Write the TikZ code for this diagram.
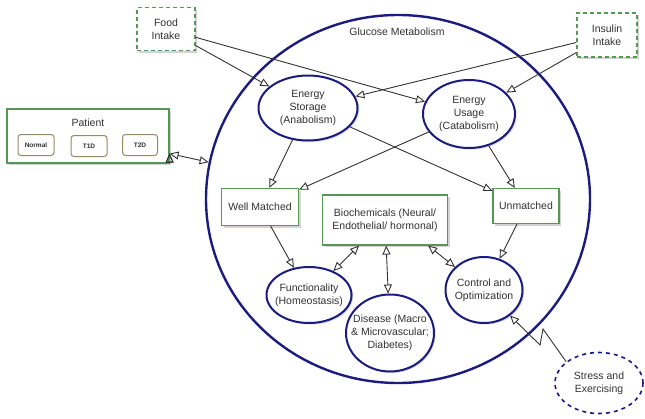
\documentclass[tikz,border=0pt]{standalone}
\usepackage{fontspec}
\setmainfont{Liberation Sans}
\usetikzlibrary{arrows.meta,shapes.geometric,shadows}

\definecolor{navyline}{RGB}{28,28,128}
\definecolor{boxgreen}{RGB}{86,150,86}
\definecolor{tanline}{RGB}{150,138,100}
\definecolor{inkgray}{RGB}{50,50,50}

\tikzset{
  blob/.style={ellipse, draw=navyline, line width=2pt, fill=white, inner sep=-10pt, align=center,
    drop shadow={shadow xshift=1.5pt, shadow yshift=-1.5pt, opacity=.2, fill=navyline}},
  gbox/.style={rectangle, draw=boxgreen, line width=1.2pt, fill=white, align=center,
    drop shadow={shadow xshift=2pt, shadow yshift=-2pt, opacity=.35, fill=gray}},
  intake/.style={gbox, dash pattern=on 4pt off 3pt, minimum width=58pt, minimum height=43pt},
  tag/.style={rectangle, rounded corners=3pt, draw=tanline, line width=1pt,
    font=\fontsize{6.5}{7}\selectfont\bfseries, minimum width=36pt, minimum height=21pt},
  link/.style={draw=inkgray, line width=.9pt, -{Triangle[open,length=9pt,width=8pt]}},
  both/.style={link, {Triangle[open,length=9pt,width=8pt]}-{Triangle[open,length=9pt,width=8pt]}},
}

\begin{document}
\begin{tikzpicture}[x=1pt, y=-1pt, font=\fontsize{10.5}{13}\selectfont, text=inkgray]
      \useasboundingbox (0,0) rectangle (645,418);
      \node (gm) [ellipse, draw=navyline, line width=2.4pt, minimum width=384pt, minimum height=368pt] at (398,199) {};
      \node (gmlabel) at (397,32) {Glucose Metabolism};

      \node (food) [intake] at (166,29) {Food\\Intake};
      \node (insulin) [intake, minimum width=60pt, minimum height=44pt] at (607,35) {Insulin\\Intake};

      \node (patient) [gbox, minimum width=162pt, minimum height=54pt] at (88,136) {};
      \node (ptitle) at (88,123) {Patient};
      \node (normal) [tag] at (36,145) {Normal};
      \node (t1d) [tag] at (89,146) {T1D};
      \node (t2d) [tag, minimum width=35pt] at (140,145) {T2D};

      \node (storage) [blob, minimum width=99pt, minimum height=65pt] at (308,108) {Energy\\Storage\\(Anabolism)};
      \node (usage) [blob, minimum width=92pt, minimum height=68pt] at (469,114) {Energy\\Usage\\(Catabolism)};
      \node (well) [gbox, minimum width=77pt, minimum height=37pt] at (260,207) {Well Matched};
      \node (unmatched) [gbox, minimum width=66pt, minimum height=35pt] at (526,206) {Unmatched};
      \node (biochem) [gbox, minimum width=125pt, minimum height=50pt] at (385,220) {Biochemicals (Neural/\\Endothelial/ hormonal)};
      \node (func) [blob, minimum width=85pt, minimum height=56pt] at (309,295) {Functionality\\(Homeostasis)};
      \node (disease) [blob, minimum width=88pt, minimum height=77pt] at (390,333) {Disease (Macro\\\& Microvascular;\\Diabetes)};
      \node (control) [blob, minimum width=77pt, minimum height=66pt] at (484,290) {Control and\\Optimization};
      \node (stress) [ellipse, draw=navyline, line width=1.6pt, dash pattern=on 4pt off 4pt, inner sep=-10pt,
                      align=center, minimum width=88pt, minimum height=61pt] at (599,383) {Stress and\\Exercising};

      \draw[link] (food) edge (storage)
                  (food) edge (usage)
                  (insulin) edge (storage)
                  (insulin) edge (usage)
                  (storage) edge (well)
                  (storage) edge (unmatched)
                  (usage) edge (well)
                  (usage) edge (unmatched)
                  (well) edge (func)
                  (unmatched) edge (control);
      \draw[both] (biochem) edge (func)
                  (biochem) edge (disease)
                  ([xshift=-20pt]biochem.south east) edge (control)
                  ([yshift=10pt]patient.south east) edge (gm.169);

      \coordinate (zig1) at (543,329);
      \coordinate (zig2) at (540,345);
      \draw[link] (stress.147) -- (zig1) -- (zig2) -- (control);
\end{tikzpicture}
\end{document}
